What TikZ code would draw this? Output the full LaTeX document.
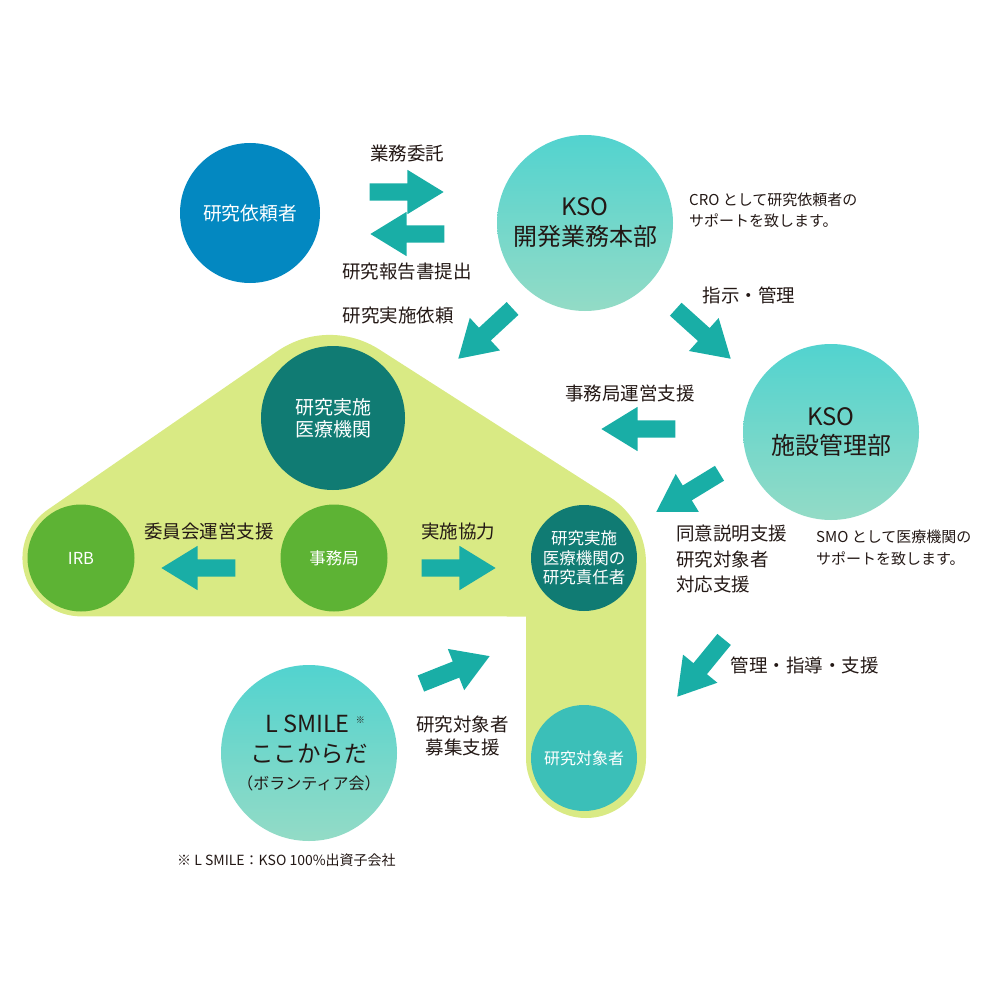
\documentclass[tikz,border=0pt]{standalone}
\usepackage{fontspec}
\setmainfont{Noto Sans CJK JP}
\usepackage{tikz}
\usetikzlibrary{shapes.arrows, positioning}
\usepackage{xcolor}

\definecolor{ink}{HTML}{231815}
\definecolor{clientblue}{HTML}{0388C1}
\definecolor{ksotop}{HTML}{52D3CF}
\definecolor{ksobottom}{HTML}{93DBC6}
\definecolor{darkteal}{HTML}{107B73}
\definecolor{leafgreen}{HTML}{5DB334}
\definecolor{subjectteal}{HTML}{3BBFB8}
\definecolor{houselime}{HTML}{D9EA84}
\definecolor{arrowteal}{HTML}{19AEA6}

\begin{document}
\begin{tikzpicture}[x=1pt, y=1pt]
    \tikzstyle{disc} = [circle, inner sep=0pt, align=center, text=white]
    \tikzstyle{kso} = [circle, inner sep=0pt, align=center, text=ink,
        top color=ksotop, bottom color=ksobottom, minimum size=176pt]
    \tikzstyle{blockarrow} = [single arrow, fill=arrowteal, inner sep=0pt,
        text height=17pt, text depth=0pt,
        minimum height=74pt, minimum width=44pt,
        single arrow head extend=13.5pt, single arrow tip angle=63, anchor=tip]
    \tikzstyle{lbl} = [text=ink, align=center, inner sep=0pt,
        font=\fontsize{18.5}{23}\selectfont]
    \tikzstyle{note} = [text=ink, align=left, anchor=west, inner sep=0pt,
        font=\fontsize{15}{21.5}\selectfont]
    \useasboundingbox (0,0) rectangle (1000,-1000);

    % the hospital area
    \fill[houselime] (47.7,-509.7) arc[start angle=124.6, end angle=270, radius=58.5]
        -- (526,-616.5) -- (526,-758) arc[start angle=180, end angle=360, radius=60]
        -- (646,-562.9) arc[start angle=0, end angle=57.4, radius=78]
        -- (379.2,-349.4) arc[start angle=57.4, end angle=124.6, radius=92]
        -- cycle;

    \node [disc, fill=clientblue, minimum size=140pt,
        font=\fontsize{18.8}{23}\selectfont] at (250,-213) (client) {研究依頼者};
    \node [kso, font=\fontsize{24}{30}\selectfont] at (585,-223) (ksodev)
        {KSO\\開発業務本部};
    \node [kso, font=\fontsize{24}{29}\selectfont] at (831,-432) (ksosite)
        {KSO\\施設管理部};
    \node [kso, font=\fontsize{23.5}{30}\selectfont] at (309,-753) (lsmile)
        {\hspace*{12pt}L SMILE\hspace{6pt}{\fontsize{9}{9}\selectfont\raisebox{9pt}{※}}\\ここからだ\\[-3pt]{\fontsize{16}{20}\selectfont （ボランティア会）}};
    \node [disc, fill=darkteal, minimum size=144pt,
        font=\fontsize{19}{22}\selectfont] at (333,-418) (hospital) {研究実施\\医療機関};
    \node [disc, fill=leafgreen, minimum size=107pt,
        font=\fontsize{16.5}{20}\selectfont] at (81,-558) (irb) {IRB};
    \node [disc, fill=leafgreen, minimum size=107pt,
        font=\fontsize{16.5}{20}\selectfont] at (334,-558) (office) {事務局};
    \node [disc, fill=darkteal, minimum size=106pt,
        font=\fontsize{16.5}{19.5}\selectfont] at (584,-558) (pi)
        {研究実施\\医療機関の\\研究責任者};
    \node [disc, fill=subjectteal, minimum size=106pt,
        font=\fontsize{16}{20}\selectfont] at (584,-758) (subject) {研究対象者};

    % block arrows
    \node [blockarrow] at (444,-192) (entrust) {};
    \node [blockarrow, rotate=180] at (370,-234) (report) {};
    \node [blockarrow, rotate=222.8] at (458,-359) (request) {};
    \node [blockarrow, rotate=-42] at (731,-359) (direct) {};
    \node [blockarrow, rotate=180] at (601,-429) (support) {};
    \node [blockarrow, rotate=211.4] at (656,-512) (consent) {};
    \node [blockarrow, rotate=230.7] at (677,-697) (guide) {};
    \node [blockarrow, rotate=21.7] at (490,-656) (recruit) {};
    \node [blockarrow, rotate=180] at (161,-568) (committee) {};
    \node [blockarrow] at (496,-568) (cooperate) {};

    % labels
    \node [lbl] at (407,-153) (entrustlbl) {業務委託};
    \node [lbl] at (407,-272) (reportlbl) {研究報告書提出};
    \node [lbl] at (398,-315) (requestlbl) {研究実施依頼};
    \node [lbl] at (749,-295) (directlbl) {指示・管理};
    \node [lbl] at (630,-393) (supportlbl) {事務局運営支援};
    \node [lbl, align=left, anchor=west, font=\fontsize{18.5}{25.5}\selectfont]
        at (676,-559) (consentlbl) {同意説明支援\\研究対象者\\対応支援};
    \node [lbl] at (804.5,-665) (guidelbl) {管理・指導・支援};
    \node [lbl] at (462.5,-735.5) (recruitlbl) {研究対象者\\募集支援};
    \node [lbl] at (209,-531) (committeelbl) {委員会運営支援};
    \node [lbl] at (458,-531) (cooperatelbl) {実施協力};

    % notes
    \node [note] at (689,-210.5) (cronote) {CRO として研究依頼者の\\サポートを致します。};
    \node [note] at (816,-548) (smonote) {SMO として医療機関の\\サポートを致します。};
    \node [note, font=\fontsize{14}{18}\selectfont] at (177,-860) (footnote)
        {※ L SMILE：KSO 100\%出資子会社};
\end{tikzpicture}
\end{document}
